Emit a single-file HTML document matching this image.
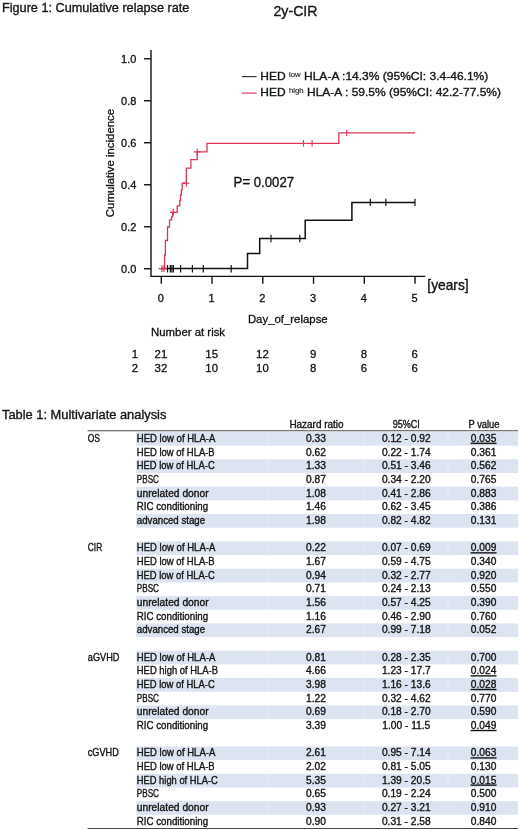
<!DOCTYPE html>
<html lang="en"><head><meta charset="utf-8"><title>Figure 1 / Table 1</title>
<style>
html,body{margin:0;padding:0;background:#fff;}
body{width:520px;height:830px;overflow:hidden;}
svg{display:block;}
text{font-family:"Liberation Sans",sans-serif;fill:#111;}
.cal{fill:#151515;stroke:#151515;stroke-width:0.36px;}
.ax{fill:#111;stroke:#111;stroke-width:0.3px;}
</style></head><body>
<svg width="520" height="830" viewBox="0 0 520 830">
<rect width="520" height="830" fill="#fff"/>
<text x="2" y="11.5" font-size="13.4" text-anchor="start" class="cal" textLength="187.3" lengthAdjust="spacingAndGlyphs">Figure 1: Cumulative relapse rate</text>
<text x="273.5" y="16" font-size="15.2" text-anchor="start" class="cal" textLength="44" lengthAdjust="spacingAndGlyphs">2y-CIR</text>
<g stroke="#111" stroke-width="1.4" fill="none" stroke-linecap="butt">
<path d="M151 50 V276.4 H425.3"/>
<path d="M144 268.75 H151"/>
<path d="M144 226.75 H151"/>
<path d="M144 184.75 H151"/>
<path d="M144 142.75 H151"/>
<path d="M144 100.75 H151"/>
<path d="M144 58.75 H151"/>
<path d="M161.30 276.4 V283.8"/>
<path d="M212.05 276.4 V283.8"/>
<path d="M262.80 276.4 V283.8"/>
<path d="M313.55 276.4 V283.8"/>
<path d="M364.30 276.4 V283.8"/>
<path d="M415.05 276.4 V283.8"/>
</g>
<text x="136.4" y="272.75" font-size="11" text-anchor="end" class="ax">0.0</text>
<text x="136.4" y="230.75" font-size="11" text-anchor="end" class="ax">0.2</text>
<text x="136.4" y="188.75" font-size="11" text-anchor="end" class="ax">0.4</text>
<text x="136.4" y="146.75" font-size="11" text-anchor="end" class="ax">0.6</text>
<text x="136.4" y="104.75" font-size="11" text-anchor="end" class="ax">0.8</text>
<text x="136.4" y="62.75" font-size="11" text-anchor="end" class="ax">1.0</text>
<text x="160.8" y="302.2" font-size="11" text-anchor="middle" class="ax">0</text>
<text x="211.55" y="302.2" font-size="11" text-anchor="middle" class="ax">1</text>
<text x="262.3" y="302.2" font-size="11" text-anchor="middle" class="ax">2</text>
<text x="313.05" y="302.2" font-size="11" text-anchor="middle" class="ax">3</text>
<text x="363.8" y="302.2" font-size="11" text-anchor="middle" class="ax">4</text>
<text x="414.55" y="302.2" font-size="11" text-anchor="middle" class="ax">5</text>
<text transform="translate(113.6 163) rotate(-90)" font-size="11.4" text-anchor="middle" class="ax">Cumulative incidence</text>
<text x="287.8" y="322.6" font-size="11.4" text-anchor="middle" class="ax">Day_of_relapse</text>
<text x="151" y="335.8" font-size="11.4" text-anchor="start" class="ax">Number at risk</text>
<path d="M161.3 268.6 L247.5 268.6 L247.5 253.5 L259.7 253.5 L259.7 238.5 L305.2 238.5 L305.2 220.2 L351.9 220.2 L351.9 202.4 L415.0 202.4" stroke="#111" stroke-width="1.5" fill="none"/>
<g stroke="#111" stroke-width="1.2">
<path d="M167.5 265 V272.4"/>
<path d="M170.3 265 V272.4"/>
<path d="M171.9 265 V272.4"/>
<path d="M173.4 265 V272.4"/>
<path d="M180.6 265 V272.4"/>
<path d="M192.4 265 V272.4"/>
<path d="M203.3 265 V272.4"/>
<path d="M231.2 265 V272.4"/>
<path d="M271 234.8 V242.2"/>
<path d="M299.8 234.8 V242.2"/>
<path d="M370.3 198.7 V206.1"/>
<path d="M385.8 198.7 V206.1"/>
<path d="M415 198.7 V206.1"/>
</g>
<path d="M162.0 268.6 L164.6 268.6 L164.6 255.0 L165.4 255.0 L165.4 240.5 L167.5 240.5 L167.5 227.0 L169.5 227.0 L169.5 219.8 L171.6 219.8 L171.6 216.9 L172.6 216.9 L172.6 212.3 L177.2 212.3 L177.2 205.8 L179.8 205.8 L179.8 200.6 L180.5 200.6 L180.5 195.2 L181.4 195.2 L181.4 189.6 L182.2 189.6 L182.2 183.2 L186.3 183.2 L186.3 168.1 L190.9 168.1 L190.9 159.7 L197.2 159.7 L197.2 151.9 L207.0 151.9 L207.0 143.3 L338.8 143.3 L338.8 132.9 L415.0 132.9" stroke="#dc3556" stroke-width="1.3" fill="none"/>
<g stroke="#dc3556" stroke-width="1.15">
<path d="M158.6 268.6 H165.20000000000002 M161.9 265.3 V271.90000000000003"/>
<path d="M160.6 268.6 H167.20000000000002 M163.9 265.3 V271.90000000000003"/>
<path d="M170.0 212.3 H176.60000000000002 M173.3 209.0 V215.60000000000002"/>
<path d="M183.0 183.2 H189.60000000000002 M186.3 179.89999999999998 V186.5"/>
<path d="M193.89999999999998 151.9 H200.5 M197.2 148.6 V155.20000000000002"/>
<path d="M303.5 140.10000000000002 V146.5"/>
<path d="M312.1 140.10000000000002 V146.5"/>
<path d="M346.7 129.70000000000002 V136.1"/>
</g>
<path d="M242 76.6 H256.6" stroke="#333" stroke-width="1.15"/>
<path d="M242 93.1 H256.6" stroke="#dc3556" stroke-width="1.15"/>
<text x="260.3" y="80.4" font-size="11.6" class="cal" textLength="228" lengthAdjust="spacingAndGlyphs">HED <tspan font-size="7.5" dy="-3.8" stroke-width="0.12">low</tspan><tspan dy="3.8"> HLA-A :14.3% (95%CI: 3.4-46.1%)</tspan></text>
<text x="260.3" y="96.3" font-size="11.6" class="cal" textLength="240.7" lengthAdjust="spacingAndGlyphs">HED <tspan font-size="7.5" dy="-3.8" stroke-width="0.12">high</tspan><tspan dy="3.8"> HLA-A : 59.5% (95%CI: 42.2-77.5%)</tspan></text>
<text x="233.6" y="186.8" font-size="13.8" text-anchor="start" class="cal" textLength="60.5" lengthAdjust="spacingAndGlyphs">P= 0.0027</text>
<text x="427.3" y="289.7" font-size="14.2" text-anchor="start" class="cal" textLength="41.4" lengthAdjust="spacingAndGlyphs">[years]</text>
<text x="138" y="357.5" font-size="11.4" text-anchor="end" class="ax">1</text>
<text x="160.9" y="357.5" font-size="11.4" text-anchor="middle" class="ax">21</text>
<text x="211.65" y="357.5" font-size="11.4" text-anchor="middle" class="ax">15</text>
<text x="262.4" y="357.5" font-size="11.4" text-anchor="middle" class="ax">12</text>
<text x="313.15" y="357.5" font-size="11.4" text-anchor="middle" class="ax">9</text>
<text x="363.9" y="357.5" font-size="11.4" text-anchor="middle" class="ax">8</text>
<text x="414.65" y="357.5" font-size="11.4" text-anchor="middle" class="ax">6</text>
<text x="138" y="371.5" font-size="11.4" text-anchor="end" class="ax">2</text>
<text x="160.9" y="371.5" font-size="11.4" text-anchor="middle" class="ax">32</text>
<text x="211.65" y="371.5" font-size="11.4" text-anchor="middle" class="ax">10</text>
<text x="262.4" y="371.5" font-size="11.4" text-anchor="middle" class="ax">10</text>
<text x="313.15" y="371.5" font-size="11.4" text-anchor="middle" class="ax">8</text>
<text x="363.9" y="371.5" font-size="11.4" text-anchor="middle" class="ax">6</text>
<text x="414.65" y="371.5" font-size="11.4" text-anchor="middle" class="ax">6</text>
<text x="2" y="419.1" font-size="13.4" text-anchor="start" class="cal" textLength="164.4" lengthAdjust="spacingAndGlyphs">Table 1: Multivariate analysis</text>
<rect x="136.2" y="432.00" width="381.8" height="13.67" fill="#dce4f1"/>
<rect x="136.2" y="459.34" width="381.8" height="13.67" fill="#dce4f1"/>
<rect x="136.2" y="486.69" width="381.8" height="13.67" fill="#dce4f1"/>
<rect x="136.2" y="514.03" width="381.8" height="13.67" fill="#dce4f1"/>
<rect x="136.2" y="541.38" width="381.8" height="13.67" fill="#dce4f1"/>
<rect x="136.2" y="568.72" width="381.8" height="13.67" fill="#dce4f1"/>
<rect x="136.2" y="596.06" width="381.8" height="13.67" fill="#dce4f1"/>
<rect x="136.2" y="623.41" width="381.8" height="13.67" fill="#dce4f1"/>
<rect x="136.2" y="650.75" width="381.8" height="13.67" fill="#dce4f1"/>
<rect x="136.2" y="678.10" width="381.8" height="13.67" fill="#dce4f1"/>
<rect x="136.2" y="705.44" width="381.8" height="13.67" fill="#dce4f1"/>
<rect x="136.2" y="746.46" width="381.8" height="13.67" fill="#dce4f1"/>
<rect x="136.2" y="773.80" width="381.8" height="13.67" fill="#dce4f1"/>
<rect x="136.2" y="801.14" width="381.8" height="13.67" fill="#dce4f1"/>
<path d="M267.9 432 V828" stroke="#fff" stroke-opacity="0.3" stroke-width="1"/>
<path d="M364.5 432 V828" stroke="#fff" stroke-opacity="0.3" stroke-width="1"/>
<path d="M448 432 V828" stroke="#fff" stroke-opacity="0.3" stroke-width="1"/>
<path d="M87.6 430.8 H518" stroke="#4a4a4a" stroke-width="1.1"/>
<path d="M87.6 828.5 H518" stroke="#4a4a4a" stroke-width="1.1"/>
<text x="316.5" y="428.2" font-size="10.2" text-anchor="middle" class="cal" textLength="54.2" lengthAdjust="spacingAndGlyphs">Hazard ratio</text>
<text x="406.3" y="428.2" font-size="10.2" text-anchor="middle" class="cal" textLength="27.2" lengthAdjust="spacingAndGlyphs">95%CI</text>
<text x="484" y="428.2" font-size="10.2" text-anchor="middle" class="cal" textLength="31" lengthAdjust="spacingAndGlyphs">P value</text>
<text x="87.8" y="441.9" font-size="10.2" text-anchor="start" class="cal" textLength="12.2" lengthAdjust="spacingAndGlyphs">OS</text>
<text x="136.8" y="441.9" font-size="10.2" text-anchor="start" class="cal" textLength="78.5" lengthAdjust="spacingAndGlyphs">HED low of HLA-A</text>
<text x="316" y="441.9" font-size="10.2" text-anchor="middle" class="cal">0.33</text>
<text x="406.3" y="441.9" font-size="10.2" text-anchor="middle" class="cal">0.12 - 0.92</text>
<text x="483.6" y="441.9" font-size="10.2" text-anchor="middle" class="cal" text-decoration="underline">0.035</text>
<text x="136.8" y="455.57" font-size="10.2" text-anchor="start" class="cal" textLength="77.9" lengthAdjust="spacingAndGlyphs">HED low of HLA-B</text>
<text x="316" y="455.57" font-size="10.2" text-anchor="middle" class="cal">0.62</text>
<text x="406.3" y="455.57" font-size="10.2" text-anchor="middle" class="cal">0.22 - 1.74</text>
<text x="483.6" y="455.57" font-size="10.2" text-anchor="middle" class="cal">0.361</text>
<text x="136.8" y="469.24" font-size="10.2" text-anchor="start" class="cal" textLength="77.9" lengthAdjust="spacingAndGlyphs">HED low of HLA-C</text>
<text x="316" y="469.24" font-size="10.2" text-anchor="middle" class="cal">1.33</text>
<text x="406.3" y="469.24" font-size="10.2" text-anchor="middle" class="cal">0.51 - 3.46</text>
<text x="483.6" y="469.24" font-size="10.2" text-anchor="middle" class="cal">0.562</text>
<text x="136.8" y="482.92" font-size="10.2" text-anchor="start" class="cal" textLength="22.2" lengthAdjust="spacingAndGlyphs">PBSC</text>
<text x="316" y="482.92" font-size="10.2" text-anchor="middle" class="cal">0.87</text>
<text x="406.3" y="482.92" font-size="10.2" text-anchor="middle" class="cal">0.34 - 2.20</text>
<text x="483.6" y="482.92" font-size="10.2" text-anchor="middle" class="cal">0.765</text>
<text x="136.8" y="496.59" font-size="10.2" text-anchor="start" class="cal" textLength="71.8" lengthAdjust="spacingAndGlyphs">unrelated donor</text>
<text x="316" y="496.59" font-size="10.2" text-anchor="middle" class="cal">1.08</text>
<text x="406.3" y="496.59" font-size="10.2" text-anchor="middle" class="cal">0.41 - 2.86</text>
<text x="483.6" y="496.59" font-size="10.2" text-anchor="middle" class="cal">0.883</text>
<text x="136.8" y="510.26" font-size="10.2" text-anchor="start" class="cal" textLength="71.3" lengthAdjust="spacingAndGlyphs">RIC conditioning</text>
<text x="316" y="510.26" font-size="10.2" text-anchor="middle" class="cal">1.46</text>
<text x="406.3" y="510.26" font-size="10.2" text-anchor="middle" class="cal">0.62 - 3.45</text>
<text x="483.6" y="510.26" font-size="10.2" text-anchor="middle" class="cal">0.386</text>
<text x="136.8" y="523.93" font-size="10.2" text-anchor="start" class="cal" textLength="68.3" lengthAdjust="spacingAndGlyphs">advanced stage</text>
<text x="316" y="523.93" font-size="10.2" text-anchor="middle" class="cal">1.98</text>
<text x="406.3" y="523.93" font-size="10.2" text-anchor="middle" class="cal">0.82 - 4.82</text>
<text x="483.6" y="523.93" font-size="10.2" text-anchor="middle" class="cal">0.131</text>
<text x="87.8" y="551.28" font-size="10.2" text-anchor="start" class="cal" textLength="14.4" lengthAdjust="spacingAndGlyphs">CIR</text>
<text x="136.8" y="551.28" font-size="10.2" text-anchor="start" class="cal" textLength="78.5" lengthAdjust="spacingAndGlyphs">HED low of HLA-A</text>
<text x="316" y="551.28" font-size="10.2" text-anchor="middle" class="cal">0.22</text>
<text x="406.3" y="551.28" font-size="10.2" text-anchor="middle" class="cal">0.07 - 0.69</text>
<text x="483.6" y="551.28" font-size="10.2" text-anchor="middle" class="cal" text-decoration="underline">0.009</text>
<text x="136.8" y="564.95" font-size="10.2" text-anchor="start" class="cal" textLength="77.9" lengthAdjust="spacingAndGlyphs">HED low of HLA-B</text>
<text x="316" y="564.95" font-size="10.2" text-anchor="middle" class="cal">1.67</text>
<text x="406.3" y="564.95" font-size="10.2" text-anchor="middle" class="cal">0.59 - 4.75</text>
<text x="483.6" y="564.95" font-size="10.2" text-anchor="middle" class="cal">0.340</text>
<text x="136.8" y="578.62" font-size="10.2" text-anchor="start" class="cal" textLength="77.9" lengthAdjust="spacingAndGlyphs">HED low of HLA-C</text>
<text x="316" y="578.62" font-size="10.2" text-anchor="middle" class="cal">0.94</text>
<text x="406.3" y="578.62" font-size="10.2" text-anchor="middle" class="cal">0.32 - 2.77</text>
<text x="483.6" y="578.62" font-size="10.2" text-anchor="middle" class="cal">0.920</text>
<text x="136.8" y="592.29" font-size="10.2" text-anchor="start" class="cal" textLength="22.2" lengthAdjust="spacingAndGlyphs">PBSC</text>
<text x="316" y="592.29" font-size="10.2" text-anchor="middle" class="cal">0.71</text>
<text x="406.3" y="592.29" font-size="10.2" text-anchor="middle" class="cal">0.24 - 2.13</text>
<text x="483.6" y="592.29" font-size="10.2" text-anchor="middle" class="cal">0.550</text>
<text x="136.8" y="605.96" font-size="10.2" text-anchor="start" class="cal" textLength="71.8" lengthAdjust="spacingAndGlyphs">unrelated donor</text>
<text x="316" y="605.96" font-size="10.2" text-anchor="middle" class="cal">1.56</text>
<text x="406.3" y="605.96" font-size="10.2" text-anchor="middle" class="cal">0.57 - 4.25</text>
<text x="483.6" y="605.96" font-size="10.2" text-anchor="middle" class="cal">0.390</text>
<text x="136.8" y="619.64" font-size="10.2" text-anchor="start" class="cal" textLength="71.3" lengthAdjust="spacingAndGlyphs">RIC conditioning</text>
<text x="316" y="619.64" font-size="10.2" text-anchor="middle" class="cal">1.16</text>
<text x="406.3" y="619.64" font-size="10.2" text-anchor="middle" class="cal">0.46 - 2.90</text>
<text x="483.6" y="619.64" font-size="10.2" text-anchor="middle" class="cal">0.760</text>
<text x="136.8" y="633.31" font-size="10.2" text-anchor="start" class="cal" textLength="68.3" lengthAdjust="spacingAndGlyphs">advanced stage</text>
<text x="316" y="633.31" font-size="10.2" text-anchor="middle" class="cal">2.67</text>
<text x="406.3" y="633.31" font-size="10.2" text-anchor="middle" class="cal">0.99 - 7.18</text>
<text x="483.6" y="633.31" font-size="10.2" text-anchor="middle" class="cal">0.052</text>
<text x="87.8" y="660.65" font-size="10.2" text-anchor="start" class="cal" textLength="31.6" lengthAdjust="spacingAndGlyphs">aGVHD</text>
<text x="136.8" y="660.65" font-size="10.2" text-anchor="start" class="cal" textLength="78.5" lengthAdjust="spacingAndGlyphs">HED low of HLA-A</text>
<text x="316" y="660.65" font-size="10.2" text-anchor="middle" class="cal">0.81</text>
<text x="406.3" y="660.65" font-size="10.2" text-anchor="middle" class="cal">0.28 - 2.35</text>
<text x="483.6" y="660.65" font-size="10.2" text-anchor="middle" class="cal">0.700</text>
<text x="136.8" y="674.32" font-size="10.2" text-anchor="start" class="cal" textLength="81.2" lengthAdjust="spacingAndGlyphs">HED high of HLA-B</text>
<text x="316" y="674.32" font-size="10.2" text-anchor="middle" class="cal">4.66</text>
<text x="406.3" y="674.32" font-size="10.2" text-anchor="middle" class="cal">1.23 - 17.7</text>
<text x="483.6" y="674.32" font-size="10.2" text-anchor="middle" class="cal" text-decoration="underline">0.024</text>
<text x="136.8" y="688.0" font-size="10.2" text-anchor="start" class="cal" textLength="77.9" lengthAdjust="spacingAndGlyphs">HED low of HLA-C</text>
<text x="316" y="688.0" font-size="10.2" text-anchor="middle" class="cal">3.98</text>
<text x="406.3" y="688.0" font-size="10.2" text-anchor="middle" class="cal">1.16 - 13.6</text>
<text x="483.6" y="688.0" font-size="10.2" text-anchor="middle" class="cal" text-decoration="underline">0.028</text>
<text x="136.8" y="701.67" font-size="10.2" text-anchor="start" class="cal" textLength="22.2" lengthAdjust="spacingAndGlyphs">PBSC</text>
<text x="316" y="701.67" font-size="10.2" text-anchor="middle" class="cal">1.22</text>
<text x="406.3" y="701.67" font-size="10.2" text-anchor="middle" class="cal">0.32 - 4.62</text>
<text x="483.6" y="701.67" font-size="10.2" text-anchor="middle" class="cal">0.770</text>
<text x="136.8" y="715.34" font-size="10.2" text-anchor="start" class="cal" textLength="71.8" lengthAdjust="spacingAndGlyphs">unrelated donor</text>
<text x="316" y="715.34" font-size="10.2" text-anchor="middle" class="cal">0.69</text>
<text x="406.3" y="715.34" font-size="10.2" text-anchor="middle" class="cal">0.18 - 2.70</text>
<text x="483.6" y="715.34" font-size="10.2" text-anchor="middle" class="cal">0.590</text>
<text x="136.8" y="729.01" font-size="10.2" text-anchor="start" class="cal" textLength="71.3" lengthAdjust="spacingAndGlyphs">RIC conditioning</text>
<text x="316" y="729.01" font-size="10.2" text-anchor="middle" class="cal">3.39</text>
<text x="406.3" y="729.01" font-size="10.2" text-anchor="middle" class="cal">1.00 - 11.5</text>
<text x="483.6" y="729.01" font-size="10.2" text-anchor="middle" class="cal" text-decoration="underline">0.049</text>
<text x="87.8" y="756.36" font-size="10.2" text-anchor="start" class="cal" textLength="31" lengthAdjust="spacingAndGlyphs">cGVHD</text>
<text x="136.8" y="756.36" font-size="10.2" text-anchor="start" class="cal" textLength="78.5" lengthAdjust="spacingAndGlyphs">HED low of HLA-A</text>
<text x="316" y="756.36" font-size="10.2" text-anchor="middle" class="cal">2.61</text>
<text x="406.3" y="756.36" font-size="10.2" text-anchor="middle" class="cal">0.95 - 7.14</text>
<text x="483.6" y="756.36" font-size="10.2" text-anchor="middle" class="cal" text-decoration="underline">0.063</text>
<text x="136.8" y="770.03" font-size="10.2" text-anchor="start" class="cal" textLength="77.9" lengthAdjust="spacingAndGlyphs">HED low of HLA-B</text>
<text x="316" y="770.03" font-size="10.2" text-anchor="middle" class="cal">2.02</text>
<text x="406.3" y="770.03" font-size="10.2" text-anchor="middle" class="cal">0.81 - 5.05</text>
<text x="483.6" y="770.03" font-size="10.2" text-anchor="middle" class="cal">0.130</text>
<text x="136.8" y="783.7" font-size="10.2" text-anchor="start" class="cal" textLength="81" lengthAdjust="spacingAndGlyphs">HED high of HLA-C</text>
<text x="316" y="783.7" font-size="10.2" text-anchor="middle" class="cal">5.35</text>
<text x="406.3" y="783.7" font-size="10.2" text-anchor="middle" class="cal">1.39 - 20.5</text>
<text x="483.6" y="783.7" font-size="10.2" text-anchor="middle" class="cal" text-decoration="underline">0.015</text>
<text x="136.8" y="797.37" font-size="10.2" text-anchor="start" class="cal" textLength="22.2" lengthAdjust="spacingAndGlyphs">PBSC</text>
<text x="316" y="797.37" font-size="10.2" text-anchor="middle" class="cal">0.65</text>
<text x="406.3" y="797.37" font-size="10.2" text-anchor="middle" class="cal">0.19 - 2.24</text>
<text x="483.6" y="797.37" font-size="10.2" text-anchor="middle" class="cal">0.500</text>
<text x="136.8" y="811.04" font-size="10.2" text-anchor="start" class="cal" textLength="71.8" lengthAdjust="spacingAndGlyphs">unrelated donor</text>
<text x="316" y="811.04" font-size="10.2" text-anchor="middle" class="cal">0.93</text>
<text x="406.3" y="811.04" font-size="10.2" text-anchor="middle" class="cal">0.27 - 3.21</text>
<text x="483.6" y="811.04" font-size="10.2" text-anchor="middle" class="cal">0.910</text>
<text x="136.8" y="824.72" font-size="10.2" text-anchor="start" class="cal" textLength="71.3" lengthAdjust="spacingAndGlyphs">RIC conditioning</text>
<text x="316" y="824.72" font-size="10.2" text-anchor="middle" class="cal">0.90</text>
<text x="406.3" y="824.72" font-size="10.2" text-anchor="middle" class="cal">0.31 - 2.58</text>
<text x="483.6" y="824.72" font-size="10.2" text-anchor="middle" class="cal">0.840</text>
</svg>
</body></html>
